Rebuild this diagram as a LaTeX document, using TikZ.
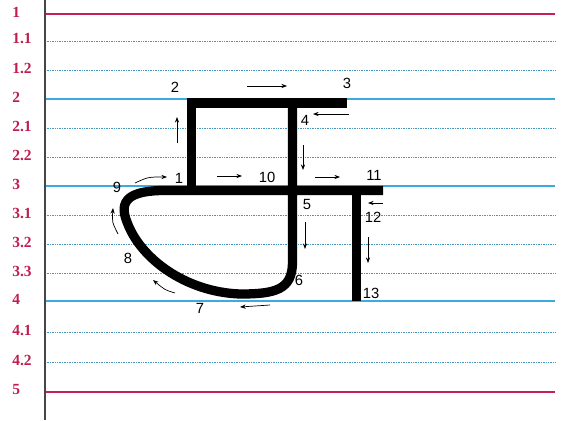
\documentclass[tikz,border=0pt]{standalone}
\usepackage{fontspec}
\setmainfont{Liberation Serif}
\newfontfamily\stepfont{Liberation Sans}
\usetikzlibrary{arrows.meta}
\definecolor{guidered}{RGB}{200,30,90}
\definecolor{guideblue}{RGB}{60,170,225}
\definecolor{dotblue}{RGB}{70,150,190}
\definecolor{marginline}{RGB}{70,70,70}
\definecolor{rowlabel}{RGB}{190,30,80}

\begin{document}
\begin{tikzpicture}[
    x=0.025cm, y=-0.025cm,
    >={Stealth[length=4pt, width=3pt]},
    redline/.style={guidered, line width=1.5pt},
    blueline/.style={guideblue, line width=1.2pt},
    dotline/.style={dotblue, line width=0.6pt, dash pattern=on 0.6pt off 0.6pt},
    rowtext/.style={text=rowlabel, font=\fontsize{11}{12}\selectfont\bfseries, anchor=west, inner sep=0pt},
    steptext/.style={font=\stepfont\fontsize{10.5}{12}\selectfont, inner sep=0pt},
    stroke/.style={line width=6.6pt},
    hint/.style={->, line width=0.5pt}
]

% Page size
\useasboundingbox (0,0) rectangle (563,420);

% Ruled lines & Row Numbers
\foreach \yy/\lab/\sty [count=\i] in {14/1/redline, 41/1.1/dotline, 70/1.2/dotline, 99/2/blueline,
    128/2.1/dotline, 157/2.2/dotline, 186/3/blueline, 215/3.1/dotline, 244/3.2/dotline,
    273/3.3/dotline, 301/4/blueline, 332/4.1/dotline, 362/4.2/dotline, 392/5/redline}
{
    \draw[\sty] (45,\yy) -- (555,\yy);
    \node[rowtext] (row\i) at (12,\yy-2) {\lab};
}

% Margin
\draw[marginline, line width=0.9pt] (45,0) -- (45,420);

% Letter: box on top
\draw[stroke] (191.5,191) -- (191.5,103) -- (347,103);

% Letter: right stem of box and bowl, into the headline
\draw[stroke] (292.5,103) -- (292.5,262) .. controls (292.5,290) and (275,294) .. (240,294)
    .. controls (185,292) and (140,258) .. (127,222)
    .. controls (118,200) and (130,190.5) .. (165,190.5) -- (383,190.5);

% Letter: last stem
\draw[stroke] (356.5,190) -- (356.5,301);

% Stroke Order Numbers
\node[steptext] (p1) at (179,178) {1};
\node[steptext] (p2) at (175,87) {2};
\node[steptext] (p3) at (347,83) {3};
\node[steptext] (p4) at (305,120) {4};
\node[steptext] (p5) at (307,204) {5};
\node[steptext] (p6) at (299,280) {6};
\node[steptext] (p7) at (200,308) {7};
\node[steptext] (p8) at (128,258) {8};
\node[steptext] (p9) at (117,187) {9};
\node[steptext] (p10) at (267,177) {10};
\node[steptext] (p11) at (374,175) {11};
\node[steptext] (p12) at (373,217) {12};
\node[steptext] (p13) at (371,293) {13};

% Direction Arrows
\draw[hint] (135,183) .. controls (148,177) .. (167,177);
\draw[hint] (177,143) -- (177,117);
\draw[hint] (247,86) -- (287,86);
\draw[hint] (349,114) -- (313,114);
\draw[hint] (303,145) -- (303,170);
\draw[hint] (217,176) -- (242,176);
\draw[hint] (315,177) -- (340,177);
\draw[hint] (383,203) -- (368,203);
\draw[hint] (305,222) -- (305,249);
\draw[hint] (368,237) -- (368,263);
\draw[hint] (270,305) -- (240,307);
\draw[hint] (175,293) .. controls (165,290) .. (153,280);
\draw[hint] (118,234) .. controls (112,222) .. (113,208);

\end{tikzpicture}
\end{document}
